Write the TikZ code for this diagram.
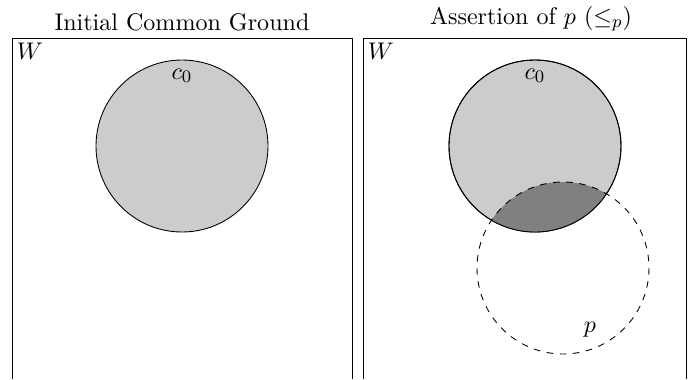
\documentclass[tikz,border=0pt]{standalone}
\usepackage{tikz}

\begin{document}
\begin{tikzpicture}[x=0.016cm, y=-0.016cm, font=\fontsize{10.95}{13}\selectfont]

\useasboundingbox (0,0) rectangle (694,379);
\def\r{86}
% frames (open at the bottom)
\draw (12,379) -- (12,38) -- (352,38) -- (352,379);
\draw (363,379) -- (363,38) -- (686,38) -- (686,379);
\node[anchor=south] (titleL) at (182,39) {Initial Common Ground};
\node[anchor=south] (titleR) at (531,39) {Assertion of $p$ ($\leq_p$)};
\node[anchor=north west, inner sep=2pt] (WL) at (12,38) {$W$};
\node[anchor=north west, inner sep=2pt] (WR) at (363,38) {$W$};

% initial common ground
\filldraw[fill=gray!40] (182,146) circle [radius=\r];
\node (c0L) at (182,76) {$c_0$};

% assertion of p
\filldraw[fill=gray!40] (535,146) circle [radius=\r];
\begin{scope}
	\clip (535,146) circle [radius=\r];
	\fill[gray] (563,268) circle [radius=\r];
\end{scope}
\draw (535,146) circle [radius=\r];
\draw[dashed] (563,268) circle [radius=\r];
\node (c0R) at (535,76) {$c_0$};
\node (pR) at (590,330) {$p$};

\end{tikzpicture}
\end{document}
